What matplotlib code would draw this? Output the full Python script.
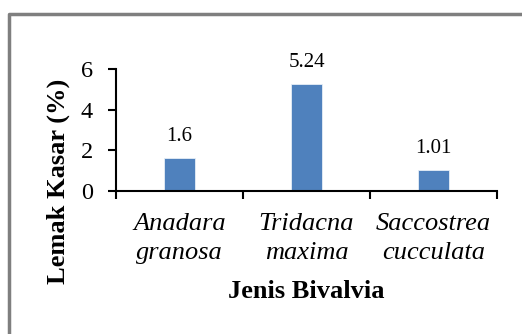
import matplotlib
matplotlib.use("Agg")
import matplotlib.pyplot as plt
from matplotlib.lines import Line2D

categories = ["Anadara\ngranosa", "Tridacna\nmaxima", "Saccostrea\ncucculata"]
values = [1.6, 5.24, 1.01]
value_labels = ["1.6", "5.24", "1.01"]
yticks = [0, 2, 4, 6]

plt.rcParams['font.family'] = ['Liberation Serif', 'DejaVu Serif']

fig = plt.figure(figsize=(5.22, 3.34), dpi=100)
ax = fig.add_axes([116/522, 1-191/334, (497-116)/522, (191-69)/334])

x = list(range(len(values)))
bars = ax.bar(x, values, width=0.25, color='#4F81BD', edgecolor='#E6EEF7', linewidth=0.6)

for xi, v, lab in zip(x, values, value_labels):
    ax.annotate(lab, (xi, v), xytext=(0, 16), textcoords='offset points',
                ha='center', va='center', fontsize=15)

ax.set_xlim(-0.5, 2.5)
ax.set_ylim(0, 6)
ax.set_yticks(yticks)
ax.set_yticklabels([str(t) for t in yticks], fontsize=17.5)
ax.set_xticks(x)
ax.set_xticklabels(categories, fontsize=19, style='italic', linespacing=1.4)
ax.set_xticks([-0.5, 0.5, 1.5, 2.5], minor=True)
ax.tick_params(axis='x', which='major', length=0, pad=16)
ax.tick_params(axis='x', which='minor', length=6, width=1.5, direction='out')
ax.tick_params(axis='y', length=5.5, width=1.5, direction='out', pad=11)

for s in ['top', 'right']:
    ax.spines[s].set_visible(False)
for s in ['left', 'bottom']:
    ax.spines[s].set_linewidth(1.5)

fig.text(58/522, 1-181/334, "Lemak Kasar (%)", rotation=90, ha='center', va='center',
         fontsize=19, fontweight='bold')
fig.text(306/522, 1-292/334, "Jenis Bivalvia", ha='center', va='center',
         fontsize=19, fontweight='bold')

# grey outer frame (cut off at right and bottom)
fig.add_artist(Line2D([8.5/522, 8.5/522, 1.0], [0.0, 1-13.5/334, 1-13.5/334],
                      transform=fig.transFigure, color='#7f7f7f', linewidth=2.5))

fig.savefig("out.png", dpi=100)
